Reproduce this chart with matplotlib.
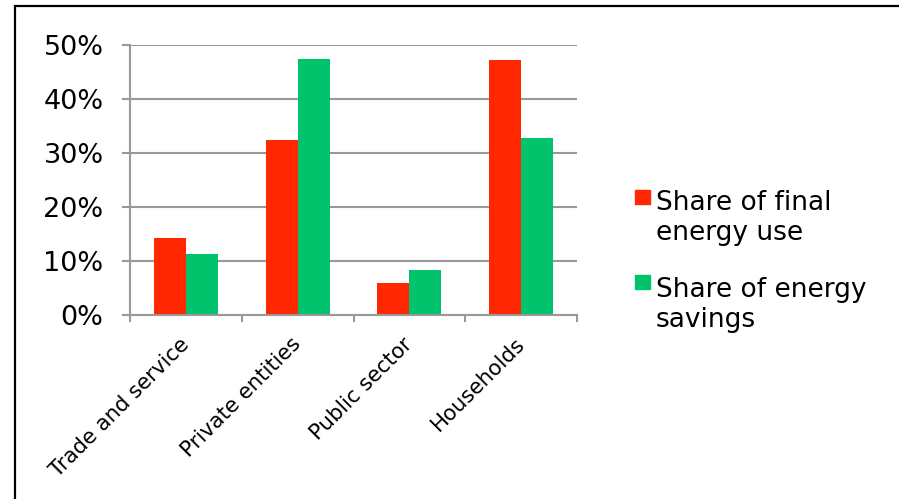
import matplotlib
matplotlib.use("Agg")
import matplotlib.pyplot as plt
from matplotlib.patches import Rectangle
from matplotlib.ticker import FuncFormatter
import numpy as np

# Datos
sectores = ["Trade and service", "Private entities", "Public sector", "Households"]
uso_final = [14.2, 32.5, 5.9, 47.2]
ahorro = [11.3, 47.4, 8.3, 32.8]
series = ["Share of final\nenergy use", "Share of energy\nsavings"]
colores = ["#FF2800", "#00C36B"]
gris = "#999999"

W, H = 899, 499
fig = plt.figure(figsize=(W / 100, H / 100), dpi=100)
ax = fig.add_axes([130 / W, 1 - 315 / H, 447 / W, 270 / H])

x = np.arange(len(sectores))
ancho = 0.286
ax.bar(x - ancho / 2, uso_final, ancho, color=colores[0])
ax.bar(x + ancho / 2, ahorro, ancho, color=colores[1])

ax.set_xlim(-0.5, len(sectores) - 0.5)
ax.set_ylim(0, 50)
ax.set_yticks(range(0, 51, 10))
ax.yaxis.set_major_formatter(FuncFormatter(lambda v, p: "%d%%" % v))
ax.yaxis.grid(True, color=gris, linewidth=1.5)
ax.set_axisbelow(True)

# etiquetas algo a la derecha del centro, marcas en los limites de cada categoria
ax.set_xticks(x + 0.065)
ax.set_xticklabels(sectores, rotation=45, ha="right", fontsize=15.3)
ax.set_xticks(np.arange(len(sectores) + 1) - 0.5, minor=True)
ax.tick_params(axis="x", which="major", length=0, pad=13.7)
ax.tick_params(axis="x", which="minor", length=5, color=gris, width=1.5)
ax.tick_params(axis="y", length=6, color=gris, width=1.5, labelsize=19.5, pad=13)

for lado in ["top", "right"]:
    ax.spines[lado].set_visible(False)
for lado in ["left", "bottom"]:
    ax.spines[lado].set_color(gris)
    ax.spines[lado].set_linewidth(1.5)

# leyenda
for i, (nombre, c) in enumerate(zip(series, colores)):
    y0 = 204 + 85 * i
    fig.add_artist(Rectangle((635 / W, 1 - y0 / H), 15 / W, 14 / H,
                             transform=fig.transFigure, color=c))
    fig.text(656 / W, 1 - (240 + 87 * i) / H, nombre, fontsize=19,
             va="baseline", ha="left", linespacing=1.2)

# marco
fig.add_artist(Rectangle((15 / W, -0.05), 1.1, 1 - 6 / H + 0.05,
                         transform=fig.transFigure, fill=False,
                         edgecolor="black", linewidth=1.6))

fig.savefig("out.png", dpi=100)
